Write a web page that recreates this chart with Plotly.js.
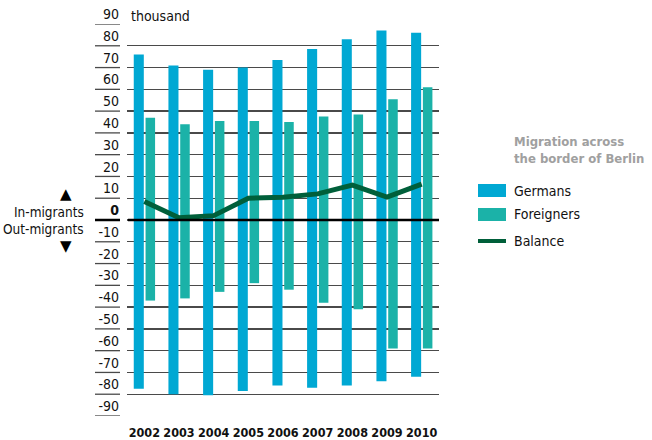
<!DOCTYPE html>
<html><head><meta charset="utf-8">
<script src="https://cdn.plot.ly/plotly-3.0.1.min.js"></script>
<style>body{margin:0;background:#fff}</style>
</head><body><div id="chart" style="width:652px;height:440px"></div>
<script>
const years = ['2002','2003','2004','2005','2006','2007','2008','2009','2010'];
const germansIn = [76, 71, 69, 70, 73.5, 78.5, 83, 87, 86];
const foreignersIn = [47, 44, 45.5, 45.5, 45, 47.5, 48.5, 55.5, 61];
const germansOut = [-77.5, -80, -80.5, -78.5, -76, -77, -76, -74, -72];
const foreignersOut = [-37, -36, -33, -29, -32, -38, -41, -59, -59];
const balance = [8.5, 1, 2, 10, 10.5, 12, 16, 10.5, 16.5];
const yTicks = [-90,-80,-70,-60,-50,-40,-30,-20,-10,0,10,20,30,40,50,60,70,80,90];
const yTickText = yTicks.map(v => v === 0 ? '<b>0</b>' : String(v));
const legendTitle = 'Migration across<br>the border of Berlin';
const seriesNames = ['Germans', 'Foreigners', 'Balance'];

const C_GER = '#00a8d3', C_FOR = '#1bb2a8', C_BAL = '#005f3a';
const FONT = 'DejaVu Sans Condensed';

const gerStyle = {type:'bar', x: years, marker:{color:C_GER}, offset:-0.305, width:0.29, showlegend:false, hoverinfo:'skip'};
const forStyle = {type:'bar', x: years, marker:{color:C_FOR}, offset:0.035, width:0.275, showlegend:false, hoverinfo:'skip'};
const traces = [
  Object.assign({y: germansIn, name: seriesNames[0]}, gerStyle),
  Object.assign({y: germansOut, name: seriesNames[0]}, gerStyle),
  Object.assign({y: foreignersIn, name: seriesNames[1]}, forStyle),
  Object.assign({y: foreignersOut, name: seriesNames[1]}, forStyle),
  {type:'scatter', mode:'lines', x: years, y: balance, name: seriesNames[2],
   line:{color:C_BAL, width:5}, showlegend:false, hoverinfo:'skip'}
];

const L = 127, R = 439, T = 24, B = 416;
const px = x => (x - L) / (R - L);
const py = y => (B - y) / (B - T);

const shapes = [];
yTicks.forEach(v => {
  const isZero = v === 0;
  shapes.push({type:'line', xref:'paper', yref:'y', x0:px(95), x1:px(120), y0:v, y1:v,
    line:{color: isZero ? '#000' : '#4a4a4a', width: isZero ? 2.5 : 1.3}, layer:'above'});
});
shapes.push({type:'line', xref:'paper', yref:'y', x0:px(128), x1:1, y0:0, y1:0,
  line:{color:'#000', width:2.5}, layer:'above'});
shapes.push({type:'rect', xref:'paper', yref:'paper', x0:px(478), x1:px(506), y0:py(197), y1:py(184),
  fillcolor:C_GER, line:{width:0}});
shapes.push({type:'rect', xref:'paper', yref:'paper', x0:px(478), x1:px(506), y0:py(221), y1:py(208),
  fillcolor:C_FOR, line:{width:0}});
shapes.push({type:'line', xref:'paper', yref:'paper', x0:px(478), x1:px(506), y0:py(241), y1:py(241),
  line:{color:C_BAL, width:4}});

const ann = (text, x, y, opts) => Object.assign({text, xref:'paper', yref:'paper', x:px(x), y:py(y),
  showarrow:false, font:{family:FONT, size:14, color:'#111'}}, opts || {});

const annotations = [
  ann('thousand', 129, 16, {xanchor:'left', yanchor:'middle'}),
  ann('In-migrants', 86, 212, {xanchor:'right', yanchor:'middle', font:{family:FONT, size:13.5, color:'#111'}}),
  ann('Out-migrants', 86, 229, {xanchor:'right', yanchor:'middle', font:{family:FONT, size:13.5, color:'#111'}}),
  ann('▲', 66, 194, {xanchor:'center', yanchor:'middle', font:{family:'DejaVu Sans', size:15, color:'#000'}}),
  ann('▼', 66, 246, {xanchor:'center', yanchor:'middle', font:{family:'DejaVu Sans', size:15, color:'#000'}}),
  ann(legendTitle, 512, 150, {xanchor:'left', yanchor:'middle', align:'left',
    font:{family:FONT, size:13, color:'#a0a0a0', weight:700}}),
  ann(seriesNames[0], 512, 191, {xanchor:'left', yanchor:'middle'}),
  ann(seriesNames[1], 512, 214, {xanchor:'left', yanchor:'middle'}),
  ann(seriesNames[2], 512, 241, {xanchor:'left', yanchor:'middle'})
];

const layout = {
  width:652, height:440,
  margin:{l:L, r:652-R, t:T, b:440-B, pad:0},
  paper_bgcolor:'#fff', plot_bgcolor:'#fff',
  barmode:'overlay',
  showlegend:false,
  font:{family:FONT, size:14, color:'#111'},
  xaxis:{type:'category', range:[-0.5, 8.5], showgrid:false, zeroline:false, showline:false,
    ticks:'', tickangle:0, tickfont:{family:FONT, size:12.5, color:'#111', weight:700}, ticklabelstandoff:7, fixedrange:true},
  yaxis:{range:[-90, 90], tickvals:yTicks, ticktext:yTickText, showgrid:true, gridcolor:'#4a4a4a', gridwidth:1.3,
    zeroline:false, showline:false, ticks:'', ticklabelposition:'outside top', ticklabelstandoff:7,
    tickfont:{family:FONT, size:14, color:'#111'}, fixedrange:true},
  shapes, annotations
};

Plotly.newPlot('chart', traces, layout, {displayModeBar:false, staticPlot:true});
</script></body></html>
